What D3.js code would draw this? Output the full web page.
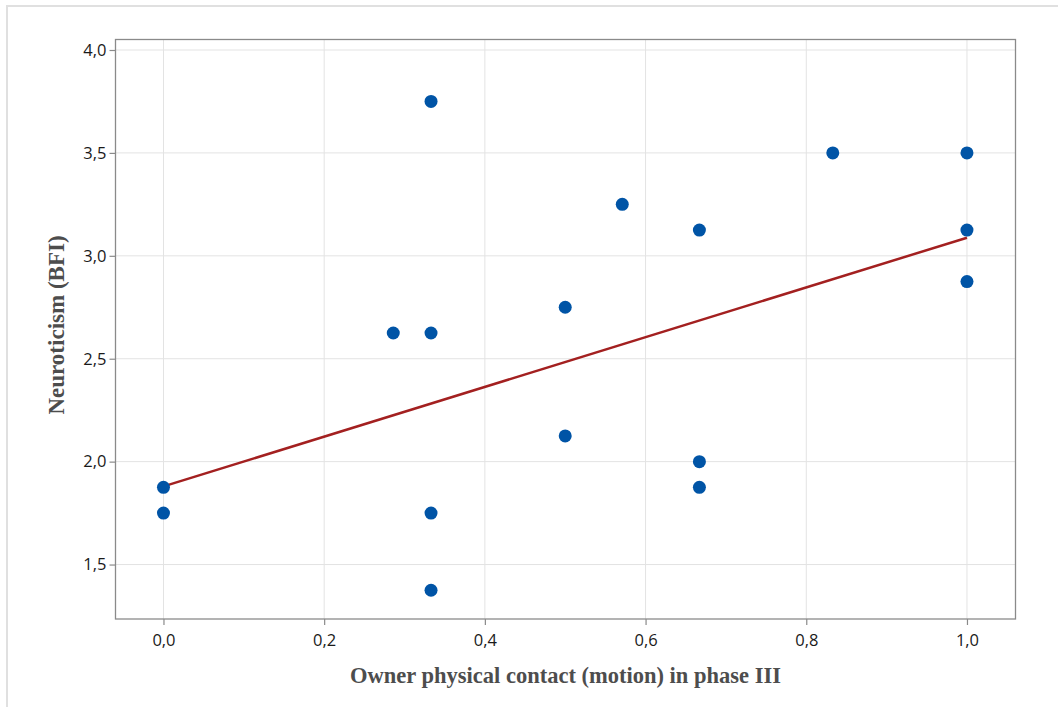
<!DOCTYPE html>
<html>
<head>
<meta charset="utf-8">
<script src="https://cdn.jsdelivr.net/npm/d3@7"></script>
<style>
  body { margin: 0; background: #fff; }
  svg { display: block; }
</style>
</head>
<body>
<script>
'use strict';

// data
const contact = [0.333, 0.833, 1.0, 0.571, 0.667, 1.0, 1.0, 0.5, 0.286, 0.333, 0.5, 0.667, 0.0, 0.667, 0.0, 0.333, 0.333];
const neuro   = [3.75, 3.5, 3.5, 3.25, 3.125, 3.125, 2.875, 2.75, 2.625, 2.625, 2.125, 2.0, 1.875, 1.875, 1.75, 1.75, 1.375];
const fitX = [0, 1];
const fitY = [1.88, 3.088];
const xTicks = [0, 0.2, 0.4, 0.6, 0.8, 1.0];
const yTicks = [1.5, 2.0, 2.5, 3.0, 3.5, 4.0];

const W = 1058, H = 707;
const plot = {left: 115.5, right: 1015.5, top: 39.5, bottom: 619};

const svg = d3.select('body').append('svg')
  .attr('width', W)
  .attr('height', H);

// light frame round the figure (only top/left show in the original)
svg.append('line').attr('x1', 7).attr('x2', 7).attr('y1', 5).attr('y2', H)
  .style('stroke', '#e0e0e0').style('stroke-width', 2);
svg.append('line').attr('x1', 6).attr('x2', W).attr('y1', 6).attr('y2', 6)
  .style('stroke', '#e0e0e0').style('stroke-width', 2);

const x = d3.scaleLinear().domain([-0.0597, 1.0604]).range([plot.left, plot.right]);
const y = d3.scaleLinear().domain([1.2354, 4.051]).range([plot.bottom, plot.top]);

// grid
const grid = svg.append('g');
grid.selectAll('.gx').data(xTicks).enter().append('line')
  .attr('x1', d => x(d)).attr('x2', d => x(d))
  .attr('y1', plot.top).attr('y2', plot.bottom)
  .style('stroke', '#e3e3e3').style('stroke-width', 1);
grid.selectAll('.gy').data(yTicks).enter().append('line')
  .attr('x1', plot.left).attr('x2', plot.right)
  .attr('y1', d => y(d)).attr('y2', d => y(d))
  .style('stroke', '#e3e3e3').style('stroke-width', 1);

// frame
svg.append('rect')
  .attr('x', plot.left).attr('y', plot.top)
  .attr('width', plot.right - plot.left).attr('height', plot.bottom - plot.top)
  .style('fill', 'none').style('stroke', '#8a8a8a').style('stroke-width', 1.3);

const fmt = d => d3.format('.1f')(d).replace('.', ',');

const xAxis = d3.axisBottom(x).tickValues(xTicks).tickFormat(fmt).tickSize(6).tickPadding(9);
const yAxis = d3.axisLeft(y).tickValues(yTicks).tickFormat(fmt).tickSize(6).tickPadding(3);

const gx = svg.append('g')
  .attr('transform', 'translate(0,' + plot.bottom + ')')
  .call(xAxis);
const gy = svg.append('g')
  .attr('transform', 'translate(' + plot.left + ',0)')
  .call(yAxis);

[gx, gy].forEach(g => {
  g.select('.domain').remove();
  g.selectAll('line').style('stroke', '#8a8a8a').style('stroke-width', 1.2);
  g.selectAll('text')
    .style('font-family', '"Open Sans", "Noto Sans", sans-serif')
    .style('font-size', '16.5px')
    .style('fill', '#1a1a1a');
});

// fitted line
svg.append('line')
  .attr('x1', x(fitX[0])).attr('y1', y(fitY[0]))
  .attr('x2', x(fitX[1])).attr('y2', y(fitY[1]))
  .style('stroke', '#a32020').style('stroke-width', 2.5);

// points
svg.selectAll('.dot').data(contact).enter().append('circle')
  .attr('class', 'dot')
  .attr('cx', d => x(d))
  .attr('cy', (d, i) => y(neuro[i]))
  .attr('r', 6.5)
  .style('fill', '#0054a6');

// axis titles
svg.append('text')
  .attr('x', (plot.left + plot.right) / 2 + 0)
  .attr('y', 683)
  .style('text-anchor', 'middle')
  .style('font-family', '"Liberation Serif", "Times New Roman", serif')
  .style('font-weight', 'bold')
  .style('font-size', '22.5px')
  .style('fill', '#4d4d4d')
  .text('Owner physical contact (motion) in phase III');

svg.append('text')
  .attr('transform', 'translate(64,' + 325 + ') rotate(-90)')
  .style('text-anchor', 'middle')
  .style('font-family', '"Liberation Serif", "Times New Roman", serif')
  .style('font-weight', 'bold')
  .style('font-size', '23px')
  .style('fill', '#4d4d4d')
  .text('Neuroticism (BFI)');
</script>
</body>
</html>
